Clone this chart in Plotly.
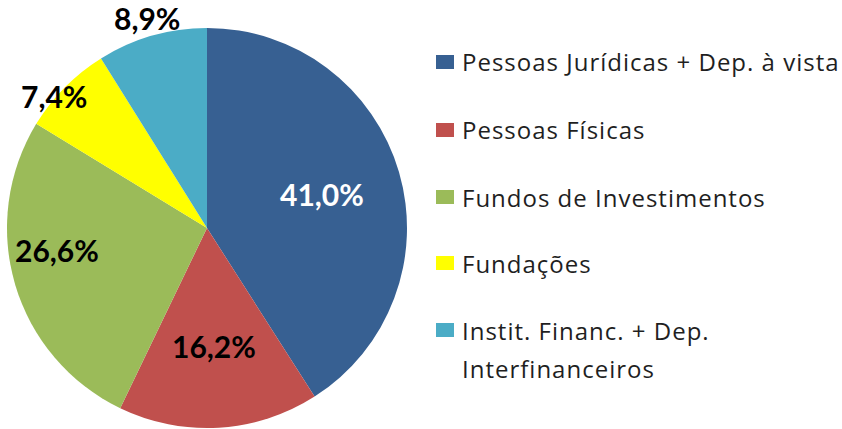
import math
import plotly.graph_objects as go

categories = ["Pessoas Jurídicas + Dep. à vista", "Pessoas Físicas", "Fundos de Investimentos",
              "Fundações", "Instit. Financ. + Dep.<br>Interfinanceiros"]
values = [41.0, 16.2, 26.6, 7.4, 8.9]
value_labels = ["41,0%", "16,2%", "26,6%", "7,4%", "8,9%"]
colors = ["#376092", "#C0504D", "#9BBB59", "#FFFF00", "#4BACC6"]

W, H = 842, 429
CX, CY, R = 207, 228, 200  # pie centre / radius in px

# label placement style (radius fraction, angle nudge in deg)
label_r = [0.60, 0.59, 0.76, 1.01, 1.09]
label_da = [0, 0, 8, -4, 0]
label_colors = ["white", "black", "black", "black", "black"]

fig = go.Figure()
fig.add_trace(go.Pie(
    labels=categories, values=values, sort=False, direction="clockwise", rotation=0,
    marker=dict(colors=colors, line=dict(width=0)),
    textinfo="none", hoverinfo="label+percent", showlegend=False,
    domain=dict(x=[(CX - R) / W, (CX + R) / W], y=[1 - (CY + R) / H, 1 - (CY - R) / H]),
))

total = sum(values)
cum = 0.0
annotations = []
for i, v in enumerate(values):
    mid = (cum + v / 2) / total * 360 + label_da[i]
    cum += v
    a = math.radians(mid)
    px = CX + label_r[i] * R * math.sin(a)
    py = CY - label_r[i] * R * math.cos(a)
    annotations.append(dict(
        x=px / W, y=1 - py / H, xref="paper", yref="paper", showarrow=False,
        text=value_labels[i], xanchor="center", yanchor="middle",
        font=dict(family="Lato", size=30, color=label_colors[i], weight="bold"),
    ))

# manual legend
legend_y = [62, 130, 197, 263, 330]
line_gap = 38
shapes = []
for i, cat in enumerate(categories):
    y = legend_y[i]
    shapes.append(dict(type="rect", xref="paper", yref="paper",
                       x0=436 / W, x1=454 / W, y0=1 - (y + 7) / H, y1=1 - (y - 7) / H,
                       fillcolor=colors[i], line=dict(width=0)))
    for j, line in enumerate(cat.split("<br>")):
        annotations.append(dict(
            x=460 / W, y=1 - (y + j * line_gap) / H, xref="paper", yref="paper", showarrow=False,
            text='<span style="letter-spacing:1.0px">' + line + '</span>',
            xanchor="left", yanchor="middle", align="left",
            font=dict(family="Open Sans", size=24, color="#1f1f1f"),
        ))

fig.update_layout(
    width=W, height=H, margin=dict(l=0, r=0, t=0, b=0),
    paper_bgcolor="white", plot_bgcolor="white",
    annotations=annotations, shapes=shapes,
)
fig.write_html("out.html", config={"displayModeBar": False},
               post_script="document.body.style.margin='0';")
